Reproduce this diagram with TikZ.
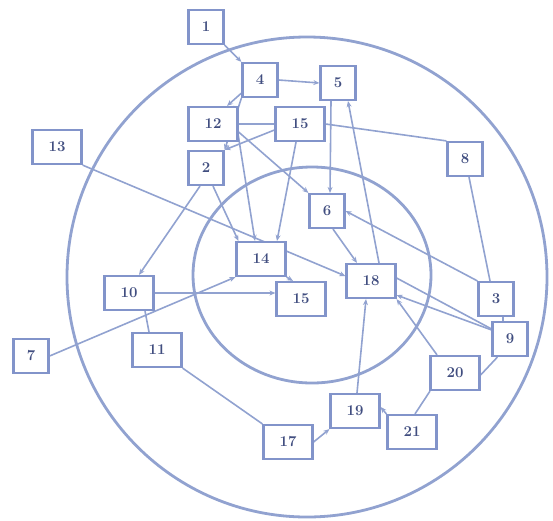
\documentclass[tikz,border=0pt]{standalone}
\usetikzlibrary{arrows.meta,backgrounds}
\definecolor{linec}{RGB}{145,162,208}
\definecolor{boxc}{RGB}{130,148,202}
\definecolor{txtc}{RGB}{65,78,128}
\tikzset{
  nbox/.style={draw=boxc, line width=2.2pt, fill=white, minimum height=34pt, minimum width=35pt, inner sep=0pt, text=txtc, font=\fontsize{15}{15}\selectfont\bfseries},
  wbox/.style={nbox, minimum width=49pt},
  conn/.style={draw=linec, line width=1.6pt},
  arr/.style={conn, -{Stealth[length=6pt,width=5pt]}},
  ring/.style={draw=linec, line width=2.8pt}
}
\begin{document}
\begin{tikzpicture}[x=1pt,y=-1pt]
\useasboundingbox (0,0) rectangle (553,520);
\node[nbox] (n1) at (206,27) {1};
\node[nbox] (n4) at (260,80) {4};
\node[nbox] (n5) at (338,83) {5};
\node[wbox] (n12) at (213,124) {12};
\node[wbox] (n15a) at (300,124) {15};
\node[wbox] (n13) at (57,147) {13};
\node[nbox] (n8) at (465,159) {8};
\node[nbox] (n2) at (206,168) {2};
\node[nbox] (n6) at (327,211) {6};
\node[wbox] (n14) at (261,259) {14};
\node[wbox] (n15b) at (301,299) {15};
\node[wbox] (n18) at (371,281) {18};
\node[nbox] (n3) at (496,299) {3};
\node[nbox] (n9) at (510,339) {9};
\node[wbox] (n20) at (455,373) {20};
\node[wbox] (n19) at (355,411) {19};
\node[wbox] (n21) at (412,432) {21};
\node[wbox] (n17) at (288,442) {17};
\node[wbox] (n10) at (129,293) {10};
\node[wbox] (n11) at (157,350) {11};
\node[nbox] (n7) at (31,356) {7};
\begin{scope}[on background layer]
\coordinate (oc) at (307,277);
\coordinate (ic) at (312,275);
\draw[ring] (oc) circle [radius=240];
\draw[ring] (ic) ellipse [x radius=119, y radius=108];
\draw[arr] (n1.south east) -- (n4.north west);
\draw[arr] (n4.east) -- (n5.west);
\draw[arr] ([yshift=5pt]n4.south west) -- ([xshift=14pt]n12.north);
\draw[arr] (n4.south west) -- (n2.north east);
\draw[arr] ([xshift=-5pt]n12.north east) -- ([xshift=-6pt]n14.north);
\draw[arr] ([xshift=-4pt]n15a.south) -- ([xshift=16pt]n14.north);
\draw[arr] ([xshift=7pt]n2.south) -- ([xshift=3pt]n14.north west);
\draw[arr] ([yshift=-8pt]n12.east) -- (n6.north west);
\draw[conn] (n12.east) -- (n15a.west);
\draw[arr] ([yshift=-6pt]n15a.west) -- (n2.north east);
\draw[conn] (n15a.east) -- (n8.north west);
\draw[arr] ([xshift=-7pt]n5.south) -- ([xshift=3pt]n6.north);
\draw[arr] ([xshift=8pt]n18.north) -- ([xshift=10pt]n5.south);
\draw[conn] ([xshift=4pt]n8.south) -- ([xshift=-6pt]n3.north);
\draw[arr] (n3.north west) -- (n6.east);
\draw[arr] ([xshift=6pt]n6.south) -- ([xshift=-14pt]n18.north);
\draw[arr] (n13.south east) -- ([yshift=5pt]n18.west);
\draw[arr] ([xshift=-6pt]n2.south) -- ([xshift=10pt]n10.north);
\draw[arr] (n10.east) -- (n10.east -| n15b.west);
\draw[arr] (n7.east) -- (n14.south west);
\draw[conn] ([xshift=16pt]n10.south) -- ([xshift=-8pt]n11.north);
\draw[conn] (n11.south east) -- (n17.north west);
\draw[arr] (n17.east) -- (n19.south west);
\draw[arr] ([xshift=2pt]n19.north) -- ([xshift=-5pt]n18.south);
\draw[arr] (n21.north west) -- ([yshift=4pt]n19.east);
\draw[conn] ([xshift=3pt]n21.north) -- ([xshift=-25pt]n20.south);
\draw[arr] ([xshift=-18pt]n20.north) -- (n18.south east);
\draw[conn] ([yshift=3pt]n18.east) -- ([yshift=-8pt]n9.north west);
\draw[arr] ([yshift=-9pt]n9.north west) -- ([yshift=4pt]n18.south east);
\draw[conn] ([xshift=6pt]n9.south west) -- ([yshift=-2pt]n20.east);
\draw[conn] ([xshift=7pt]n3.south) -- ([xshift=-7pt]n9.north);
\draw[arr] (n14.south east) -- ([xshift=-8pt]n15b.north);
\end{scope}
\end{tikzpicture}
\end{document}
